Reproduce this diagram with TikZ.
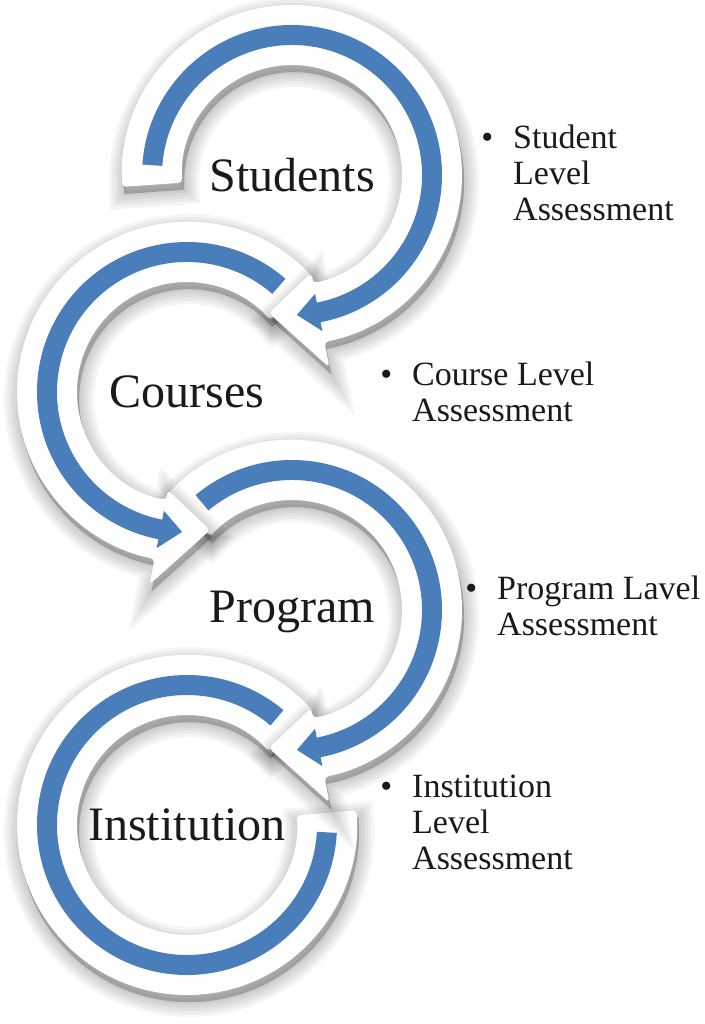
\documentclass[tikz,border=0pt]{standalone}
\usepackage{fontspec}
\setmainfont{Liberation Serif}
\definecolor{RingBlue}{HTML}{4A7EBB}
\definecolor{InkText}{HTML}{1A1A1A}
\newcommand\blueArrow[3]{(#1:150) arc[start angle=#1,end angle=#2,radius=150] -- (#2:159) -- (#3:140) -- (#2:121) -- (#2:130) arc[start angle=#2,end angle=#1,radius=130] -- cycle}
\newcommand\whiteArrow[3]{(#1:170) arc[start angle=#1,end angle=#2,radius=170] -- (#2:196) -- (#3:140) -- (#2:100) -- (#2:110) arc[start angle=#2,end angle=#1,radius=110] -- cycle}
\newcommand\ringBand[4]{(#1:#4) arc[start angle=#1,end angle=#2,radius=#4] -- (#2:#3) arc[start angle=#2,end angle=#1,radius=#3] -- cycle}

\begin{document}
\begin{tikzpicture}[x=1pt,y=1pt,lbl/.style={font=\fontsize{48}{52}\selectfont,text=InkText,inner sep=0},
  assess/.style={font=\fontsize{34}{36}\selectfont,text=InkText,align=left,anchor=north west,inner sep=0},
  blur/.style={black,opacity=.04,line width=#1}]
\useasboundingbox[fill=white] (0,0) rectangle (704,-1024);
\foreach \w in {0,6,12,18,24,30} \filldraw[blur=\w pt,shift={(189,-832)}] \ringBand{42}{365}{110}{170};
\fill[white,rounded corners=4pt,shift={(187,-825)}] \ringBand{42}{365}{110}{170};
\fill[RingBlue,shift={(187,-825)}] \ringBand{50}{357}{130}{150};
\foreach \cx/\cy/\ta/\tb/\hb/\tp/\tq in {292/610/138/130/-79/-88/-99.5,187/392/41/49/259/268/279.5,292/175/184/176/-79/-88/-99.5}{
  \foreach \w in {0,6,12,18,24,30} \filldraw[blur=\w pt,shift={(\cx+2,-\cy-7)}] \whiteArrow{\ta}{\hb}{\tq};
  \fill[white,rounded corners=4pt,shift={(\cx,-\cy)}] \whiteArrow{\ta}{\hb}{\tq};
  \fill[RingBlue,shift={(\cx,-\cy)}] \blueArrow{\tb}{\hb}{\tp};
}
\node[lbl] (students) at (292,-175) {Students}; \node[lbl] (courses) at (187,-392) {Courses};
\node[lbl] (program) at (292,-612) {Program}; \node[lbl] (institution) at (187,-825) {Institution};
\node[assess] (studentlvl) at (513,-124.5) {\llap{\textbullet\hspace{20pt}}Student\\Level\\Assessment};
\node[assess] (courselvl) at (412,-361.8) {\llap{\textbullet\hspace{20pt}}Course Level\\Assessment};
\node[assess] (programlvl) at (497,-575.8) {\llap{\textbullet\hspace{20pt}}Program Lavel\\Assessment};
\node[assess] (institutionlvl) at (412,-774.8) {\llap{\textbullet\hspace{20pt}}Institution\\Level\\Assessment};
\end{tikzpicture}
\end{document}
